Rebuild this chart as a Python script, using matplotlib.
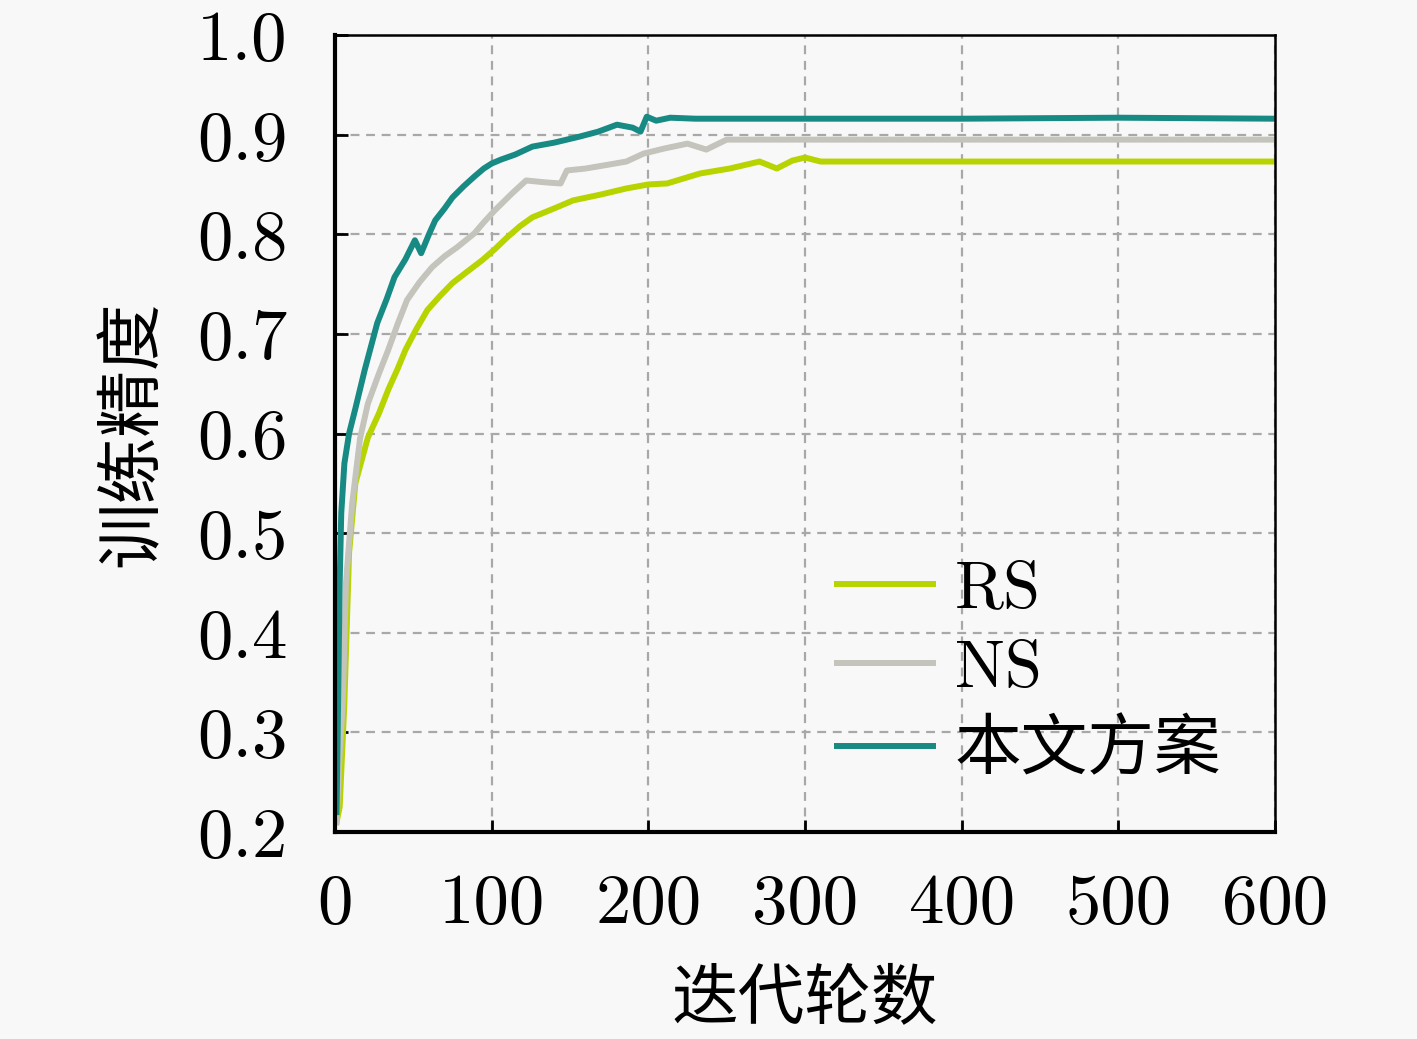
import matplotlib
matplotlib.use("Agg")
import matplotlib.pyplot as plt

# ---- data ----
rs_x = [1, 3, 6, 9, 13, 21, 28, 34, 40, 45, 52, 59, 67, 75, 84, 94, 102, 110, 118, 126,
        140, 152, 170, 186, 200, 212, 233, 252, 271, 282, 292, 300, 310, 400, 500, 600]
rs_y = [0.21, 0.225, 0.33, 0.48, 0.55, 0.596, 0.62, 0.644, 0.665, 0.684, 0.705, 0.724, 0.738,
        0.751, 0.762, 0.774, 0.785, 0.797, 0.808, 0.817, 0.826, 0.834, 0.840, 0.846, 0.850,
        0.851, 0.861, 0.866, 0.873, 0.866, 0.874, 0.877, 0.873, 0.873, 0.873, 0.873]

ns_x = [1, 3, 5, 7, 11, 16, 21, 28, 34, 40, 46, 54, 62, 70, 78, 89, 95, 102, 113, 122, 135,
        144, 148, 160, 175, 186, 197, 210, 225, 237, 250, 300, 400, 500, 600]
ns_y = [0.21, 0.28, 0.33, 0.45, 0.53, 0.595, 0.630, 0.66, 0.684, 0.71, 0.734, 0.752, 0.767,
        0.778, 0.787, 0.801, 0.812, 0.824, 0.841, 0.854, 0.852, 0.851, 0.864, 0.866, 0.870,
        0.873, 0.881, 0.886, 0.891, 0.885, 0.895, 0.895, 0.895, 0.895, 0.895]

ours_x = [1, 2, 3, 4, 6, 9, 13, 19, 27, 33, 38, 45, 51, 55, 60, 64, 70, 75, 82, 89, 95, 100,
          106, 115, 126, 140, 156, 168, 180, 190, 195, 199, 205, 214, 230, 300, 400, 500, 600]
ours_y = [0.22, 0.33, 0.45, 0.52, 0.57, 0.60, 0.625, 0.664, 0.711, 0.735, 0.757, 0.775, 0.794,
          0.781, 0.80, 0.814, 0.826, 0.837, 0.848, 0.858, 0.866, 0.871, 0.875, 0.880, 0.888,
          0.892, 0.898, 0.903, 0.910, 0.907, 0.903, 0.918, 0.914, 0.917, 0.916, 0.916, 0.916,
          0.917, 0.916]

series_labels = ["RS", "NS", "本文方案"]
series_colors = ["#b8d400", "#c4c4bc", "#178a84"]
x_ticks = [0, 100, 200, 300, 400, 500, 600]
y_ticks = [0.2, 0.3, 0.4, 0.5, 0.6, 0.7, 0.8, 0.9, 1.0]
x_label = "迭代轮数"
y_label = "训练精度"

plt.rcParams['font.family'] = ['cmr10', 'Noto Sans CJK SC', 'DejaVu Sans']
plt.rcParams['axes.formatter.use_mathtext'] = True

bg = "#f8f8f8"
fig = plt.figure(figsize=(14.17, 10.39), dpi=100, facecolor=bg)
ax = fig.add_axes([0.2364, 0.1992, 0.6634, 0.7671], facecolor=bg)

for xs, ys, lab, col in zip([rs_x, ns_x, ours_x], [rs_y, ns_y, ours_y],
                            series_labels, series_colors):
    ax.plot(xs, ys, color=col, lw=4.3, label=lab, solid_joinstyle='round')

ax.set_xlim(0, 600)
ax.set_ylim(0.2, 1.0)
ax.set_xticks(x_ticks)
ax.set_yticks(y_ticks)
ax.set_xticklabels([str(v) for v in x_ticks])
ax.set_yticklabels([f"{v:.1f}" for v in y_ticks])
ax.tick_params(axis='both', direction='in', length=9, width=2, labelsize=51, pad=34)
ax.tick_params(axis='x', pad=30)
ax.grid(True, color='#a8a8a8', linestyle=(0, (4, 3)), lw=1.6)

for side in ['left', 'bottom']:
    ax.spines[side].set_linewidth(3.0)
for side in ['top', 'right']:
    ax.spines[side].set_linewidth(1.8)

ax.set_xlabel(x_label, fontsize=48, family=['Noto Sans CJK SC'], labelpad=20)
ax.set_ylabel(y_label, fontsize=48, family=['Noto Sans CJK SC'], labelpad=22)

leg = ax.legend(loc='upper left', bbox_to_anchor=(0.47, 0.416), frameon=False,
                handlelength=1.45, handletextpad=0.32, labelspacing=0.3,
                prop={'family': ['cmr10', 'Noto Sans CJK SC'], 'size': 48})
for line in leg.get_lines():
    line.set_linewidth(4.3)

fig.savefig("out.png", dpi=100, facecolor=bg)
